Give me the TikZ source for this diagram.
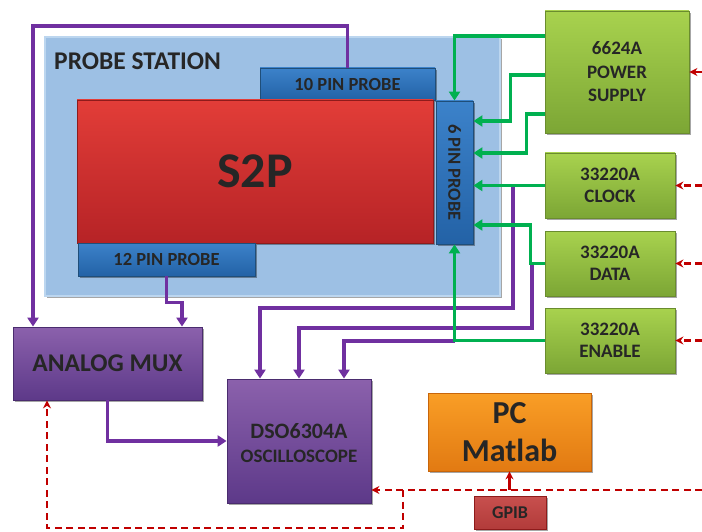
\documentclass[tikz,border=0pt]{standalone}
\usepackage{fontspec}
\setmainfont{Carlito}
\usetikzlibrary{shadows,arrows.meta}
\definecolor{txt}{HTML}{262626}
\definecolor{psfill}{HTML}{9DC0E4}
\definecolor{psdraw}{HTML}{BCD6EF}
\definecolor{bluetop}{HTML}{3C82CA}
\definecolor{bluebot}{HTML}{2362A6}
\definecolor{bluedraw}{HTML}{1F4E79}
\definecolor{redtop}{HTML}{E23D38}
\definecolor{redbot}{HTML}{B62326}
\definecolor{reddraw}{HTML}{8E1B1B}
\definecolor{greentop}{HTML}{A8D24E}
\definecolor{greenbot}{HTML}{7CA635}
\definecolor{greendraw}{HTML}{6A8C2E}
\definecolor{purptop}{HTML}{8B61AC}
\definecolor{purpbot}{HTML}{5D3989}
\definecolor{purpdraw}{HTML}{4A2C6E}
\definecolor{orgtop}{HTML}{F99E26}
\definecolor{orgbot}{HTML}{E27A12}
\definecolor{orgdraw}{HTML}{C8650A}
\definecolor{gpibtop}{HTML}{C8504E}
\definecolor{gpibbot}{HTML}{B23B3A}
\definecolor{lgreen}{HTML}{00B050}
\definecolor{lpurple}{HTML}{7030A0}
\definecolor{lred}{HTML}{C00000}
\begin{document}
\begin{tikzpicture}[x=1pt,y=-1pt,
  every node/.style={inner sep=0pt, text=txt},
  box/.style={draw, line width=0.8pt,
    drop shadow={shadow xshift=1.6pt, shadow yshift=-1.6pt, opacity=0.35, fill=black}},
  psbox/.style={box, fill=psfill, draw=psdraw, line width=1.2pt},
  bluebox/.style={box, top color=bluetop, bottom color=bluebot, draw=bluedraw},
  redbox/.style={box, top color=redtop, bottom color=redbot, draw=reddraw},
  greenbox/.style={box, top color=greentop, bottom color=greenbot, draw=greendraw},
  purpbox/.style={box, top color=purptop, bottom color=purpbot, draw=purpdraw},
  orgbox/.style={box, top color=orgtop, bottom color=orgbot, draw=orgdraw},
  gpibbox/.style={box, top color=gpibtop, bottom color=gpibbot, draw=reddraw},
  gline/.style={draw=lgreen, line width=3.2pt, -{Triangle[length=9pt,width=11pt]}},
  pline/.style={draw=lpurple, line width=3.2pt, -{Triangle[length=9pt,width=11pt]}},
  rline/.style={draw=lred, line width=2.3pt, dash pattern=on 7pt off 4.5pt, -{Stealth[length=8pt,width=8pt]}},
]
\useasboundingbox (0,0) rectangle (702,532);

% Probe station
\node[psbox, minimum width=455pt, minimum height=259pt] (ps) at (272.5,166.5) {};
\node[anchor=base west, font=\bfseries\fontsize{25.5}{30}\selectfont] (pslabel) at (54,70) {PROBE STATION};
\node[bluebox, minimum width=175pt, minimum height=32pt, font=\bfseries\fontsize{18.5}{22}\selectfont] (ten) at (347.5,84) {10 PIN PROBE};
\node[redbox, minimum width=356pt, minimum height=143pt, font=\bfseries\fontsize{50}{60}\selectfont] (s2p) at (255,171.5) {S2P};
\node[bluebox, minimum width=37pt, minimum height=143pt] (six) at (454.5,172.5) {};
\node[rotate=-90, font=\bfseries\fontsize{18.5}{22}\selectfont] (sixlabel) at (six.center) {6 PIN PROBE};
\node[bluebox, minimum width=177pt, minimum height=33pt, font=\bfseries\fontsize{18.5}{22}\selectfont] (twelve) at (166.5,259.5) {12 PIN PROBE};

% Instruments
\node[greenbox, minimum width=144pt, minimum height=122pt, align=center, font=\bfseries\fontsize{19}{23.5}\selectfont] (power) at (617,72) {6624A\\POWER\\SUPPLY};
\node[greenbox, minimum width=130pt, minimum height=65pt, align=center, font=\bfseries\fontsize{19}{22}\selectfont] (clock) at (610,185.5) {33220A\\CLOCK};
\node[greenbox, minimum width=130pt, minimum height=65pt, align=center, font=\bfseries\fontsize{19}{22}\selectfont] (data) at (610,263.5) {33220A\\DATA};
\node[greenbox, minimum width=130pt, minimum height=65pt, align=center, font=\bfseries\fontsize{19}{22}\selectfont] (enable) at (610,340.5) {33220A\\ENABLE};
\node[purpbox, minimum width=189pt, minimum height=73pt, font=\bfseries\fontsize{25.5}{30}\selectfont] (mux) at (107.5,363.5) {ANALOG MUX};
\node[purpbox, minimum width=144pt, minimum height=124pt] (scope) at (299,441) {};
\node[align=center, font=\bfseries\fontsize{19}{24.5}\selectfont] (scopelabel) at ([yshift=-2pt]scope.center) {{\fontsize{22}{24.5}\selectfont DSO6304A}\\OSCILLOSCOPE};
\node[orgbox, minimum width=163pt, minimum height=78pt, align=center, font=\bfseries\fontsize{32}{38}\selectfont] (pc) at (509.5,432) {PC\\Matlab};
\node[gpibbox, minimum width=72pt, minimum height=33pt, font=\bfseries\fontsize{18}{22}\selectfont] (gpib) at (510,512.5) {GPIB};

% Coordinates
\coordinate (ptop) at (33,26);
\coordinate (redge) at (702,0);
\coordinate (pc1) at (513,186);
\coordinate (pc2) at (532,263);
\coordinate (pc3) at (455,341);
\coordinate (rb) at (702,490);
\coordinate (rc) at (403,490);
\coordinate (rd) at (403,528);

% Purple connectors
\draw[pline] (ten.north) |- (ptop) -- (ptop |- mux.north);
\draw[pline] (twelve.south) -- ++(0,26) -| ([xshift=74.5pt]mux.north);
\draw[pline] (mux.south) |- (scope.west);
\draw[pline] (pc1) -- ++(0,122) -| ([xshift=-39pt]scope.north);
\draw[pline] (pc2) -- ++(0,65) -| (scope.north);
\draw[pline] (pc3) -| ([xshift=45pt]scope.north);

% Green connectors
\draw[gline] ([yshift=36pt]power.west) -| (six.north);
\draw[gline] ([yshift=-3pt]power.west) -- ++(-34,0) |- ([yshift=51.5pt]six.east);
\draw[gline] ([yshift=-42pt]power.west) -- ++(-18,0) |- ([yshift=19.5pt]six.east);
\draw[gline] (clock.west) -- (clock.west -| six.east);
\draw[gline] (data.west) -- ++(-14,0) |- ([yshift=-52.5pt]six.east);
\draw[gline] (enable.west) -| (six.south);

% Red dashed connectors
\draw[rline] (power.east -| redge) -- (power.east);
\draw[rline] (clock.east -| redge) -- (clock.east);
\draw[rline] (data.east -| redge) -- (data.east);
\draw[rline] (enable.east -| redge) -- (enable.east);
\draw[rline] (rb) -- (scope.east |- rb);
\draw[rline] (rc) -- (rd) -| ([xshift=-60.5pt]mux.south);
\draw[rline, solid] (pc.south |- rb) -- (pc.south);
\end{tikzpicture}
\end{document}
